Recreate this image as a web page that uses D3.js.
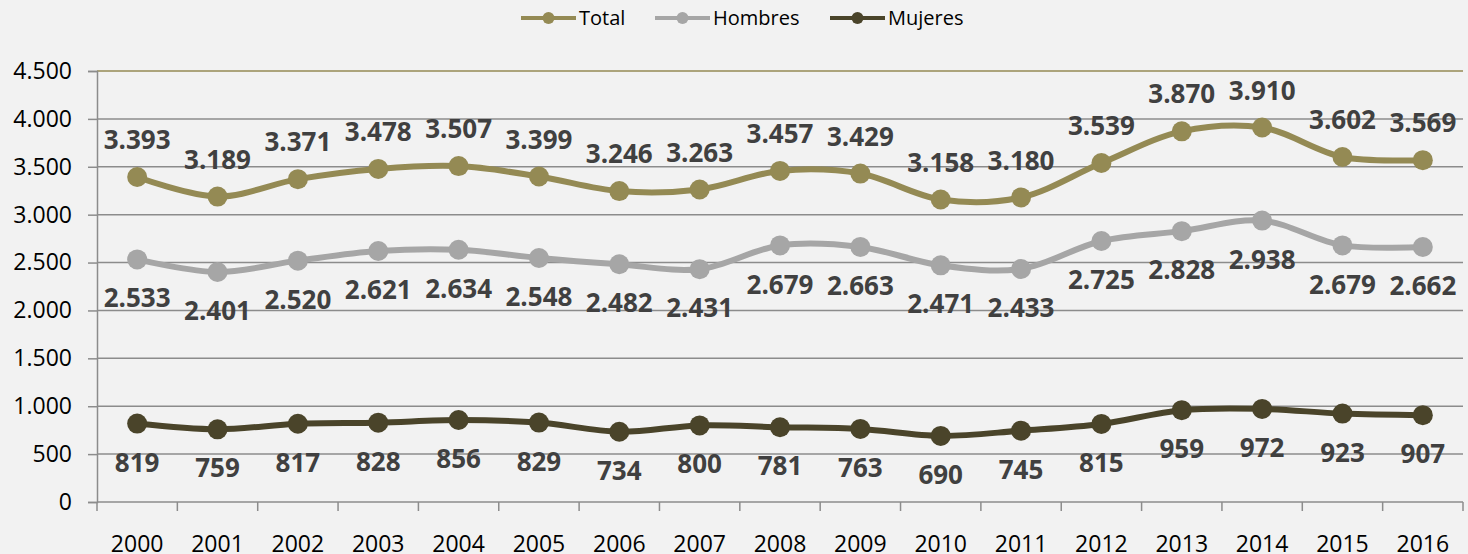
<!DOCTYPE html>
<html>
<head>
<meta charset="utf-8">
<script src="https://cdn.jsdelivr.net/npm/d3@7"></script>
<style>
  body { margin: 0; background: #f2f2f2; }
  text { font-family: "Open Sans", "Liberation Sans", sans-serif; }
</style>
</head>
<body>
<div class="chart"></div>
<script>
// data
var years = ["2000", "2001", "2002", "2003", "2004", "2005", "2006", "2007", "2008",
  "2009", "2010", "2011", "2012", "2013", "2014", "2015", "2016"];
var total = [3393, 3189, 3371, 3478, 3507, 3399, 3246, 3263, 3457, 3429, 3158, 3180, 3539, 3870, 3910, 3602, 3569];
var hombres = [2533, 2401, 2520, 2621, 2634, 2548, 2482, 2431, 2679, 2663, 2471, 2433, 2725, 2828, 2938, 2679, 2662];
var mujeres = [819, 759, 817, 828, 856, 829, 734, 800, 781, 763, 690, 745, 815, 959, 972, 923, 907];
var yTicks = [0, 500, 1000, 1500, 2000, 2500, 3000, 3500, 4000, 4500];

var series = [
  { name: "Total", values: total, color: "#948a54", labelDy: -37 },
  { name: "Hombres", values: hombres, color: "#a6a6a6", labelDy: 39 },
  { name: "Mujeres", values: mujeres, color: "#4a442a", labelDy: 39 }
];

var svgWidth = 1468;
var svgHeight = 554;
var margin = { top: 71, bottom: 52, right: 5, left: 97 };
var width = svgWidth - margin.left - margin.right;
var height = svgHeight - margin.top - margin.bottom;

var locale = d3.formatLocale({ decimal: ",", thousands: ".", grouping: [3], currency: ["", ""] });
var fmt = locale.format(",d");

var svg = d3.select(".chart").append("svg")
  .attr("width", svgWidth)
  .attr("height", svgHeight);

svg.append("rect").attr("width", svgWidth).attr("height", svgHeight).attr("fill", "#f2f2f2");

var chartGroup = svg.append("g")
  .attr("transform", `translate(${margin.left}, ${margin.top})`);

var xBand = d3.scaleBand().domain(years).range([0, width]);
var yLinearScale = d3.scaleLinear().domain([0, 4500]).range([height, 0]);
var xc = d => xBand(d) + xBand.bandwidth() / 2;

// gridlines
chartGroup.selectAll(".grid")
  .data(yTicks.slice(1))
  .enter()
  .append("line")
  .attr("x1", 0)
  .attr("x2", width)
  .attr("y1", d => yLinearScale(d))
  .attr("y2", d => yLinearScale(d))
  .attr("stroke", d => d === 4500 ? "#948a54" : "#8c8c8c")
  .attr("stroke-width", 1.5);

// y axis
var yAxis = d3.axisLeft(yLinearScale).tickValues(yTicks).tickFormat(fmt).tickSize(9).tickPadding(16);
var yg = chartGroup.append("g").call(yAxis);
yg.select(".domain").attr("stroke", "#8c8c8c").attr("stroke-width", 1.5);
yg.selectAll(".tick line").attr("stroke", "#8c8c8c").attr("stroke-width", 1.5);
yg.selectAll(".tick text").attr("font-size", 23).attr("fill", "#000")
  .style("font-family", "'Open Sans', sans-serif");

// x axis: ticks between categories
var xg = chartGroup.append("g").attr("transform", `translate(0, ${height})`);
xg.append("line").attr("x1", 0).attr("x2", width)
  .attr("stroke", "#8c8c8c").attr("stroke-width", 1.5);
xg.selectAll(".xtick")
  .data(years.concat(["end"]))
  .enter()
  .append("line")
  .attr("x1", (d, i) => i * xBand.step())
  .attr("x2", (d, i) => i * xBand.step())
  .attr("y1", 0)
  .attr("y2", 9)
  .attr("stroke", "#8c8c8c")
  .attr("stroke-width", 1.5);
xg.selectAll(".xlabel")
  .data(years)
  .enter()
  .append("text")
  .attr("x", d => xc(d))
  .attr("y", 50)
  .attr("text-anchor", "middle")
  .attr("font-size", 23)
  .attr("fill", "#000")
  .text(d => d);

// lines
var line = d3.line()
  .x((d, i) => xc(years[i]))
  .y(d => yLinearScale(d))
  .curve(d3.curveCatmullRom.alpha(0.5));

series.forEach(function(s) {
  chartGroup.append("path")
    .datum(s.values)
    .attr("d", line)
    .attr("fill", "none")
    .attr("stroke", s.color)
    .attr("stroke-width", 6)
    .attr("stroke-linejoin", "round");

  chartGroup.selectAll(null)
    .data(s.values)
    .enter()
    .append("circle")
    .attr("cx", (d, i) => xc(years[i]))
    .attr("cy", d => yLinearScale(d))
    .attr("r", 10)
    .attr("fill", s.color);

  chartGroup.selectAll(null)
    .data(s.values)
    .enter()
    .append("text")
    .attr("x", (d, i) => xc(years[i]))
    .attr("y", d => yLinearScale(d) + s.labelDy)
    .attr("dy", "0.35em")
    .attr("text-anchor", "middle")
    .attr("font-size", 26)
    .attr("font-weight", "bold")
    .attr("fill", "#404040")
    .text(d => fmt(d));
});

// legend
var legendX = [521, 655, 830];
var legend = svg.append("g");
series.forEach(function(s, i) {
  var g = legend.append("g").attr("transform", `translate(${legendX[i]}, 18)`);
  g.append("line").attr("x1", 0).attr("x2", 55).attr("stroke", s.color).attr("stroke-width", 4);
  g.append("circle").attr("cx", 27.5).attr("r", 6).attr("fill", s.color);
  g.append("text").attr("x", 58).attr("dy", "0.35em").attr("font-size", 20).attr("fill", "#000").text(s.name);
});
</script>
</body>
</html>
